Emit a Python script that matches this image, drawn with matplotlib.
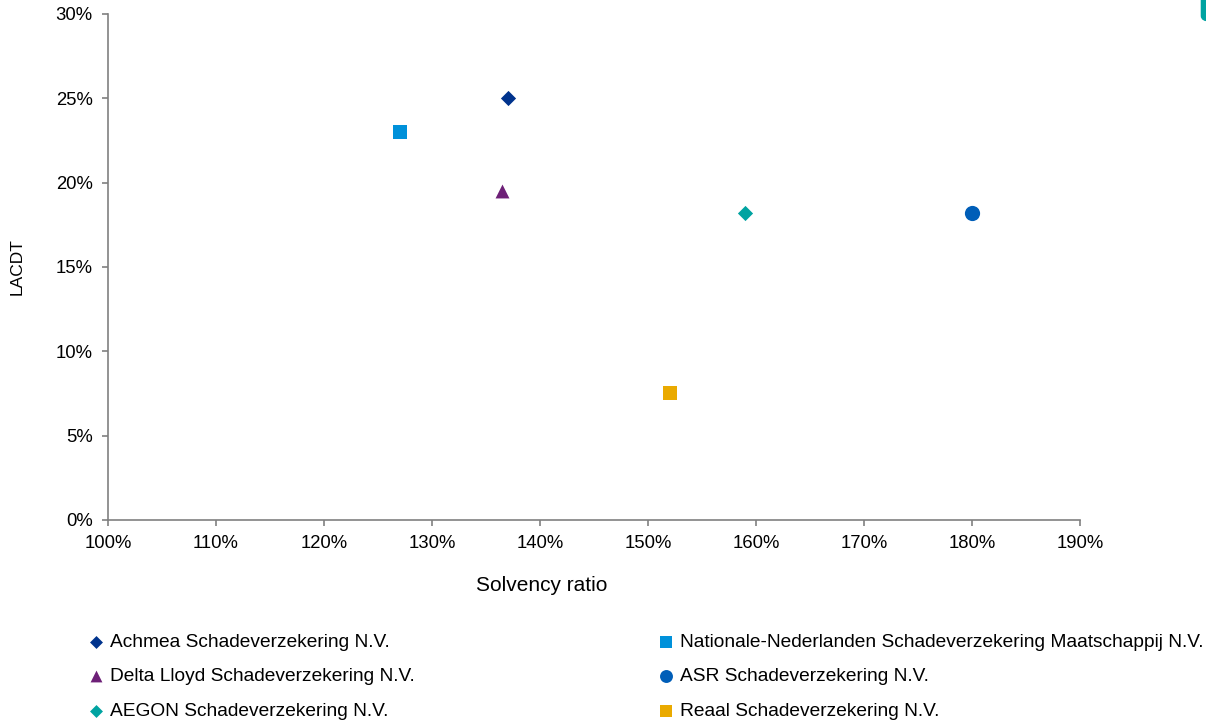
import matplotlib.pyplot as plt
from matplotlib.ticker import PercentFormatter
from matplotlib.patches import FancyBboxPatch

plt.rcParams['font.family'] = ['Liberation Sans', 'DejaVu Sans']

# data
companies = [
    "Achmea Schadeverzekering N.V.",
    "Nationale-Nederlanden Schadeverzekering Maatschappij N.V.",
    "Delta Lloyd Schadeverzekering N.V.",
    "ASR Schadeverzekering N.V.",
    "AEGON Schadeverzekering N.V.",
    "Reaal Schadeverzekering N.V.",
]
solvency = [137, 127, 136.5, 180, 159, 152]
lacdt = [25.0, 23.0, 19.5, 18.2, 18.2, 7.5]

colors = ["#00338D", "#0091DA", "#6D2077", "#005EB8", "#00A3A1", "#EAAA00"]
markers = ["D", "s", "^", "o", "D", "s"]
sizes = [60, 110, 100, 120, 60, 110]

fig = plt.figure(figsize=(12.06, 7.2), dpi=100)
ax = fig.add_axes([0.0896, 0.2778, 0.806, 0.7028])

handles = {}
for name, x, y, c, m, s in zip(companies, solvency, lacdt, colors, markers, sizes):
    h = ax.scatter(x, y, color=c, marker=m, s=s, linewidths=0, zorder=3)
    handles[name] = h

ax.set_xlim(100, 190)
ax.set_ylim(0, 30)
ax.set_xticks(range(100, 191, 10))
ax.set_yticks(range(0, 31, 5))
ax.xaxis.set_major_formatter(PercentFormatter(decimals=0))
ax.yaxis.set_major_formatter(PercentFormatter(decimals=0))

for side in ["top", "right"]:
    ax.spines[side].set_visible(False)
for side in ["left", "bottom"]:
    ax.spines[side].set_color("#808080")
    ax.spines[side].set_linewidth(1.2)
ax.tick_params(colors="#808080", labelcolor="black", labelsize=13.3,
               length=4, width=1.2, pad=7)

ax.set_xlabel("Solvency ratio", fontsize=15)
ax.xaxis.set_label_coords(0.4465, -0.11)
ax.set_ylabel("LACDT", fontsize=12.5)
ax.yaxis.set_label_coords(-0.0854, 0.5)

# legend in two columns, placed separately
col1 = [companies[0], companies[2], companies[4]]
col2 = [companies[1], companies[3], companies[5]]
leg_kw = dict(frameon=False, fontsize=13.8, handletextpad=0.2, labelspacing=0.9,
              markerscale=0.85, handlelength=1.0, borderaxespad=0)
leg1 = fig.legend([handles[n] for n in col1], col1, loc="upper left",
                  bbox_to_anchor=(0.0655, 0.1312), **leg_kw)
leg2 = fig.legend([handles[n] for n in col2], col2, loc="upper left",
                  bbox_to_anchor=(0.5382, 0.1312), **leg_kw)

# little teal shape cut off in the top right corner
fig.patches.append(FancyBboxPatch((0.9962, 0.971), 0.03, 0.06,
                                  boxstyle="round,pad=0,rounding_size=0.007",
                                  transform=fig.transFigure, color="#00A3A1",
                                  clip_on=False))

fig.savefig("out.png", dpi=100)
